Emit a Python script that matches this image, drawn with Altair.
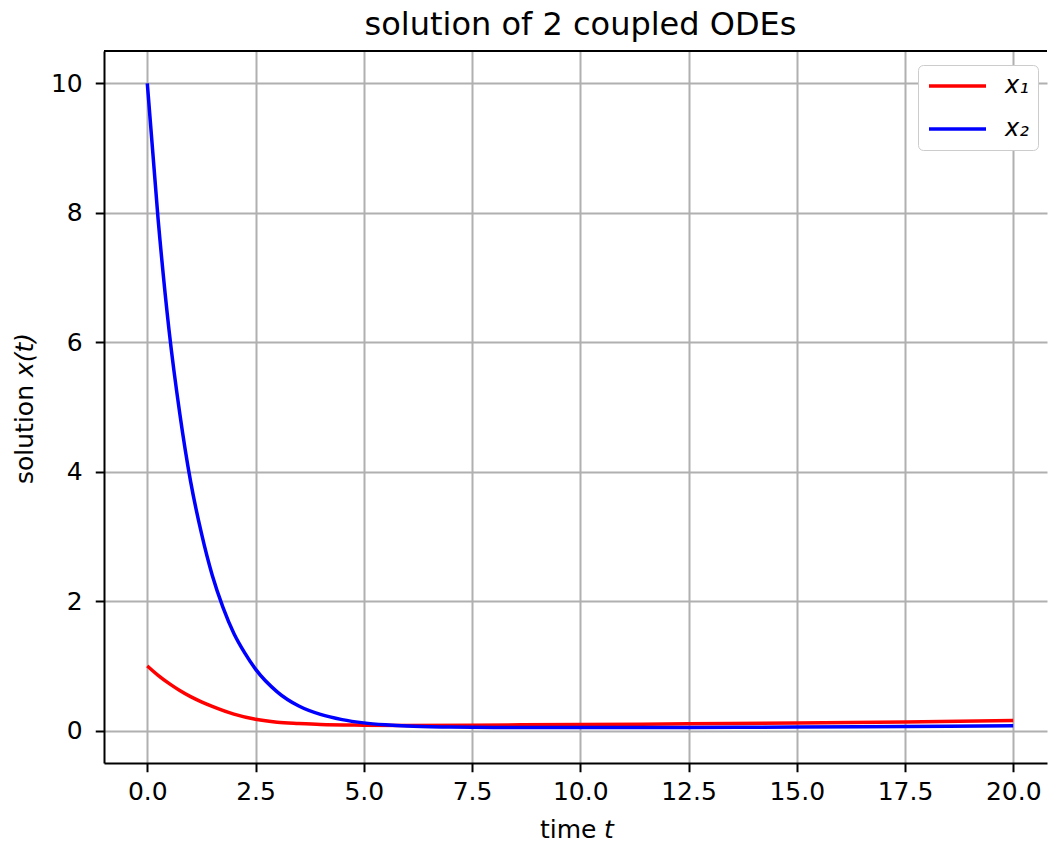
import altair as alt
import pandas as pd

# ---- data ----
t_x1 = [0.0, 0.25, 0.5, 0.75, 1.0, 1.25, 1.5, 2.0, 2.5, 3.0, 3.5, 4.0, 5.0, 6.0, 7.5, 10.0, 12.5, 15.0, 17.5, 20.0]
x1 = [1.0, 0.855, 0.73, 0.62, 0.525, 0.445, 0.375, 0.255, 0.175, 0.13, 0.11, 0.095, 0.085, 0.08, 0.085, 0.095, 0.105, 0.118, 0.135, 0.158]

t_x2 = [0.0, 0.25, 0.5, 0.75, 1.0, 1.25, 1.5, 1.75, 2.0, 2.25, 2.5, 3.0, 3.5, 4.0, 4.5, 5.0, 5.5, 6.0, 7.0, 8.0, 10.0, 12.5, 15.0, 17.5, 20.0]
x2 = [10.0, 7.9, 6.2, 4.9, 3.85, 3.05, 2.4, 1.9, 1.5, 1.2, 0.95, 0.6, 0.38, 0.25, 0.17, 0.12, 0.09, 0.07, 0.055, 0.048, 0.047, 0.05, 0.056, 0.064, 0.075]

series_names = ["x\u2081", "x\u2082"]
series_colors = ["#ff0000", "#0000ff"]

x_ticks = [0, 2.5, 5, 7.5, 10, 12.5, 15, 17.5, 20]
y_ticks = [0, 2, 4, 6, 8, 10]

title_text = "solution of 2 coupled ODEs"

df = pd.concat([
    pd.DataFrame({"t": t_x1, "value": x1, "series": series_names[0]}),
    pd.DataFrame({"t": t_x2, "value": x2, "series": series_names[1]}),
], ignore_index=True)

W, H = 943, 712
FONT = "DejaVu Sans"

lines = alt.Chart(df).mark_line(strokeWidth=3.5, interpolate="monotone", clip=True).encode(
    x=alt.X("t:Q",
            scale=alt.Scale(domain=[-1, 20.78], nice=False, zero=False),
            axis=alt.Axis(values=x_ticks, format=".1f", title=None, grid=True,
                          labelFlush=False, labelOverlap=False, labelPadding=8)),
    y=alt.Y("value:Q",
            scale=alt.Scale(domain=[-0.5, 10.5], nice=False, zero=False),
            axis=alt.Axis(values=y_ticks, format="d", title=None, grid=True,
                          labelOverlap=False, labelPadding=13)),
    color=alt.Color("series:N",
                    scale=alt.Scale(domain=series_names, range=series_colors),
                    legend=alt.Legend(orient="none", legendX=814, legendY=14, title=None,
                                      symbolType="stroke", symbolSize=3249,
                                      symbolStrokeWidth=3.5, labelFontSize=24,
                                      labelFont=FONT, labelFontStyle="italic",
                                      labelColor="black", labelOffset=17,
                                      clipHeight=24, padding=9, rowPadding=19,
                                      strokeColor="#cccccc", fillColor="white",
                                      cornerRadius=5)),
    order=alt.Order("t:Q"),
)

one = pd.DataFrame({"a": [0]})

top_border = alt.Chart(one).mark_rule(color="black", strokeWidth=2).encode(
    x=alt.value(0), x2=alt.value(W), y=alt.value(0)
)

x_title_a = alt.Chart(one).mark_text(text="time", font=FONT, fontSize=25, align="left",
                                     baseline="middle", color="black").encode(
    x=alt.value(436), y=alt.value(779))
x_title_b = alt.Chart(one).mark_text(text="t", font=FONT, fontSize=25, fontStyle="italic",
                                     align="left", baseline="middle", color="black").encode(
    x=alt.value(500), y=alt.value(779))

y_title_a = alt.Chart(one).mark_text(text="solution", font=FONT, fontSize=25, align="left",
                                     baseline="middle", angle=270, color="black").encode(
    x=alt.value(-79), y=alt.value(433))
y_title_b = alt.Chart(one).mark_text(text="x(t)", font=FONT, fontSize=25, fontStyle="italic",
                                     align="left", baseline="middle", angle=270,
                                     color="black").encode(
    x=alt.value(-79), y=alt.value(326))

chart = alt.layer(lines, top_border, x_title_a, x_title_b, y_title_a, y_title_b).properties(
    width=W, height=H,
    title=alt.TitleParams(text=title_text, fontSize=32, font=FONT, fontWeight="normal",
                          color="black", anchor="middle", offset=8, dx=5),
    autosize=alt.AutoSizeParams(type="none"),
    padding={"left": 104, "top": 51, "right": 1, "bottom": 82},
    background="white",
).configure_view(strokeWidth=0).configure_axis(
    domainColor="black", domainWidth=2, tickColor="black", tickWidth=2, tickSize=8.75,
    labelFontSize=25, labelFont=FONT, labelColor="black",
    gridColor="#b0b0b0", gridWidth=2, gridOpacity=1,
)

chart.save("out.html", embed_options={"renderer": "svg", "actions": False})
